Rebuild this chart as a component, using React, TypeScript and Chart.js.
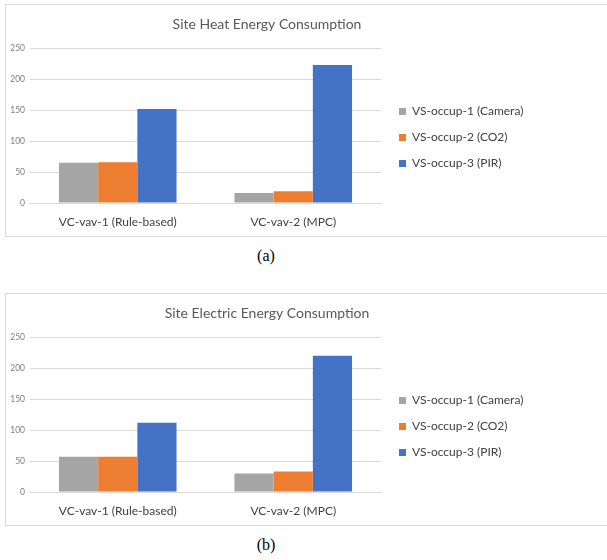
import React, { useEffect, useRef } from "react";
import { Chart, registerables } from "chart.js";

Chart.register(...registerables);

const categories = ["VC-vav-1 (Rule-based)", "VC-vav-2 (MPC)"];
const seriesNames = ["VS-occup-1 (Camera)", "VS-occup-2 (CO2)", "VS-occup-3 (PIR)"];
const heatCamera = [65, 16];
const heatCO2 = [66, 19];
const heatPIR = [152, 223];
const elecCamera = [57, 30];
const elecCO2 = [57, 33];
const elecPIR = [112, 220];
const yMax = 250;
const yStep = 50;
const seriesColors = ["#a5a5a5", "#ed7d31", "#4472c4"];

const FONT = "Lato, sans-serif";

type Props = { title: string; series: number[][] };

const BarChart: React.FC<Props> = ({ title, series }) => {
  const ref = useRef<HTMLCanvasElement | null>(null);
  useEffect(() => {
    if (!ref.current) return;
    const legendFix = {
      id: "legendFix",
      beforeInit(chart: any) {
        const orig = chart.legend.fit;
        chart.legend.fit = function () {
          orig.call(this);
          this.width = 147;
        };
      },
      afterLayout(chart: any) {
        const lg = chart.legend;
        lg.left += 4;
        lg.right += 4;
        lg.top += 17;
        lg.bottom += 17;
      },
    };
    const chart = new Chart(ref.current, {
      type: "bar",
      data: {
        labels: categories,
        datasets: series.map((d, i) => ({
          label: seriesNames[i],
          data: d,
          backgroundColor: seriesColors[i],
          borderWidth: 0,
          categoryPercentage: 0.67,
          barPercentage: 1,
        })),
      },
      options: {
        animation: false,
        responsive: true,
        maintainAspectRatio: false,
        layout: { padding: { left: 0, right: 0, top: 0, bottom: 0 } },
        plugins: {
          title: {
            display: true,
            text: title,
            color: "#595959",
            font: { family: FONT, size: 14, weight: "normal" },
            padding: { top: 11, bottom: 15.4 },
          },
          legend: {
            position: "right",
            labels: {
              boxWidth: 7,
              boxHeight: 7,
              padding: 14,
              color: "#404040",
              font: { family: FONT, size: 12 },
            },
          },
          tooltip: { enabled: false },
        },
        scales: {
          x: {
            grid: { display: false, drawTicks: false, tickLength: 0 },
            border: { color: "#d9d9d9" },
            ticks: { color: "#404040", font: { family: FONT, size: 12 }, padding: 12 },
            afterFit(scale: any) {
              scale.height = 33;
            },
          },
          y: {
            min: 0,
            max: yMax,
            grid: { color: "#d9d9d9", drawTicks: false, tickLength: 0 },
            border: { display: false },
            ticks: {
              stepSize: yStep,
              color: "#7f7f7f",
              font: { family: FONT, size: 8.5 },
              padding: 5,
            },
            afterFit(scale: any) {
              scale.width = 24;
            },
          },
        },
      },
      plugins: [legendFix],
    } as any);
    return () => chart.destroy();
  }, [title, series]);
  return (
    <div style={{ position: "relative", width: 522, height: 231 }}>
      <canvas ref={ref} />
    </div>
  );
};

const boxStyle = (top: number): React.CSSProperties => ({
  position: "absolute",
  left: 5,
  top,
  width: 610,
  height: 231,
  border: "1px solid #d9d9d9",
  background: "#fff",
});

const captionStyle = (top: number): React.CSSProperties => ({
  position: "absolute",
  left: 0,
  width: 532,
  top,
  textAlign: "center",
  fontFamily: "'Liberation Serif', 'Times New Roman', serif",
  fontSize: 16,
  lineHeight: "18px",
});

export default function App() {
  return (
    <div style={{ position: "fixed", left: 0, top: 0, width: 607, height: 560, background: "#fff", overflow: "hidden" }}>
      <div style={boxStyle(4)}>
        <BarChart title="Site Heat Energy Consumption" series={[heatCamera, heatCO2, heatPIR]} />
      </div>
      <div style={captionStyle(247)}>(a)</div>
      <div style={boxStyle(293)}>
        <BarChart title="Site Electric Energy Consumption" series={[elecCamera, elecCO2, elecPIR]} />
      </div>
      <div style={captionStyle(536)}>(b)</div>
    </div>
  );
}
